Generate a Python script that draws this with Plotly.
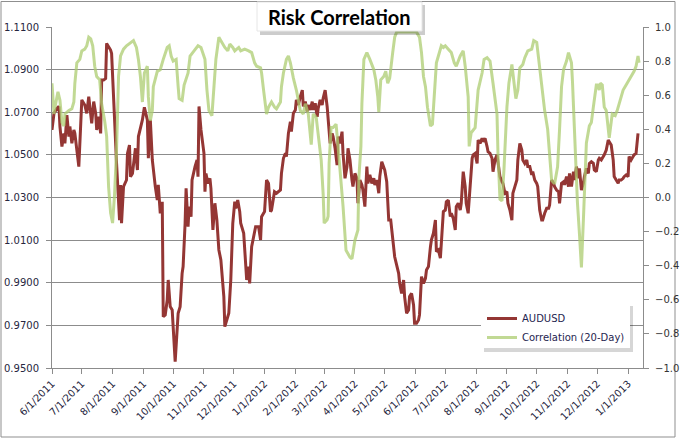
import pandas as pd
import plotly.graph_objects as go

START = "2011-06-01"

# AUDUSD: days since 2011-06-01 and price
aud_days = [0,2,5,7,8,10,12,13,15,17,18,20,22,23,27,28,30,33,35,37,38,40,42,44,45,47,49,50,52,54,55,59,60,62,65,68,69,70,72,75,76,78,79,81,82,84,86,87,91,93,96,97,99,101,104,106,107,109,111,112,114,116,117,119,121,124,127,129,131,132,134,135,137,138,140,141,144,146,147,148,150,153,154,155,157,159,160,162,164,166,168,170,173,174,178,180,182,184,185,187,189,190,193,194,196,198,199,201,203,205,208,210,211,214,216,218,220,221,224,226,230,231,233,235,236,238,240,241,243,245,246,248,250,252,253,255,257,258,260,262,263,265,267,268,270,272,273,275,277,278,280,282,283,285,287,288,290,292,293,295,297,298,300,302,303,305,307,308,310,312,313,315,317,318,320,322,324,325,327,329,330,332,334,335,337,339,341,344,345,347,349,350,352,354,355,357,359,360,362,364,365,367,369,370,372,374,376,377,379,381,382,384,386,387,389,391,392,394,396,397,399,401,402,404,406,407,409,411,412,414,416,417,419,421,423,424,426,428,429,431,433,434,436,438,439,441,443,444,446,448,449,451,453,454,456,458,459,461,463,464,466,468,469,471,473,474,476,478,479,481,483,484,486,488,489,491,493,494,496,498,500,501,503,505,506,508,510,511,513,515,516,518,520,521,523,525,526,528,530,531,533,535,536,538,540,541,543,545,546,548,550,551,553,555,556,558,560,561,563,565,566,568,570,571,573,575,576,578,580,581,583,585,586,588,590]
aud_values = [1.0617,1.0695,1.0719,1.0727,1.0633,1.0539,1.0601,1.0554,1.0687,1.0586,1.0633,1.0554,1.0617,1.0601,1.0445,1.0570,1.0758,1.0734,1.0695,1.0773,1.0727,1.0648,1.0750,1.0695,1.0617,1.0679,1.0601,1.0851,1.0851,1.0858,1.1023,1.0992,1.0976,1.0758,1.0460,1.0194,1.0359,1.0179,1.0351,1.0382,1.0507,1.0546,1.0398,1.0413,1.0452,1.0531,1.0429,1.0586,1.0664,1.0723,1.0664,1.0484,1.0664,1.0476,1.0351,1.0288,1.0359,1.0226,1.0280,0.9741,0.9749,0.9819,0.9913,0.9788,0.9772,0.9530,0.9757,0.9788,0.9944,0.9976,1.0179,1.0343,1.0163,1.0257,1.0210,1.0382,1.0445,1.0476,1.0398,1.0727,1.0617,1.0507,1.0327,1.0413,1.0366,1.0390,1.0343,1.0148,1.0273,1.0194,1.0054,1.0007,0.9835,0.9694,0.9757,0.9913,1.0179,1.0280,1.0249,1.0288,1.0234,1.0179,1.0132,1.0038,0.9913,0.9976,0.9897,1.0069,1.0116,1.0163,1.0163,1.0101,1.0210,1.0234,1.0382,1.0366,1.0234,1.0241,1.0327,1.0320,1.0335,1.0413,1.0484,1.0507,1.0492,1.0601,1.0656,1.0609,1.0695,1.0711,1.0758,1.0734,1.0773,1.0804,1.0727,1.0750,1.0703,1.0734,1.0711,1.0750,1.0711,1.0742,1.0679,1.0719,1.0758,1.0734,1.0765,1.0804,1.0727,1.0664,1.0554,1.0601,1.0586,1.0531,1.0452,1.0586,1.0554,1.0609,1.0507,1.0390,1.0445,1.0531,1.0476,1.0382,1.0351,1.0413,1.0390,1.0273,1.0382,1.0359,1.0335,1.0257,1.0445,1.0366,1.0406,1.0366,1.0390,1.0359,1.0382,1.0320,1.0398,1.0468,1.0445,1.0429,1.0374,1.0194,1.0194,1.0054,1.0022,0.9983,0.9944,0.9897,0.9850,0.9913,0.9835,0.9757,0.9772,0.9835,0.9850,0.9796,0.9710,0.9710,0.9725,0.9749,0.9929,0.9897,0.9921,0.9960,0.9976,1.0069,1.0101,1.0132,1.0194,1.0046,1.0054,1.0015,1.0085,1.0234,1.0241,1.0280,1.0288,1.0210,1.0226,1.0202,1.0148,1.0257,1.0273,1.0241,1.0273,1.0421,1.0351,1.0273,1.0226,1.0382,1.0484,1.0500,1.0507,1.0460,1.0570,1.0554,1.0578,1.0562,1.0578,1.0539,1.0515,1.0507,1.0484,1.0421,1.0476,1.0500,1.0460,1.0398,1.0374,1.0366,1.0320,1.0327,1.0273,1.0241,1.0194,1.0320,1.0351,1.0382,1.0476,1.0554,1.0523,1.0476,1.0460,1.0476,1.0445,1.0445,1.0406,1.0421,1.0382,1.0366,1.0351,1.0241,1.0194,1.0194,1.0226,1.0249,1.0249,1.0265,1.0382,1.0366,1.0351,1.0335,1.0327,1.0273,1.0367,1.0374,1.0359,1.0398,1.0351,1.0413,1.0351,1.0421,1.0382,1.0445,1.0390,1.0437,1.0335,1.0367,1.0398,1.0437,1.0413,1.0460,1.0468,1.0460,1.0429,1.0421,1.0476,1.0484,1.0476,1.0492,1.0500,1.0523,1.0570,1.0562,1.0546,1.0476,1.0398,1.0382,1.0367,1.0382,1.0382,1.0390,1.0398,1.0406,1.0398,1.0492,1.0476,1.0492,1.0500,1.0507,1.0601]

# 20-day correlation: days since 2011-06-01 and value
corr_days = [0,2,3,6,8,10,12,13,17,20,22,23,25,28,30,33,35,37,39,41,43,45,48,50,53,55,57,59,61,63,65,67,69,72,75,79,82,85,87,89,91,93,96,97,99,101,102,106,109,112,116,118,120,122,125,127,128,131,133,137,139,143,147,150,154,156,158,161,163,165,168,171,174,177,179,182,184,186,188,190,194,198,201,204,206,210,211,213,216,218,221,224,226,230,231,233,236,238,240,243,246,250,253,255,258,261,263,266,268,271,273,274,277,278,279,281,283,286,288,291,293,296,300,302,305,308,309,311,312,314,317,320,324,326,328,329,331,334,336,338,340,343,345,347,352,359,367,370,372,374,376,378,381,383,385,387,389,392,394,396,399,402,405,407,411,414,416,419,420,422,426,428,429,433,435,438,441,444,446,448,449,451,453,455,458,460,463,465,467,469,471,474,476,479,483,485,488,490,493,496,499,501,503,506,509,511,513,515,518,520,523,524,526,529,531,533,535,537,538,541,543,545,548,549,551,552,554,556,558,561,563,564,567,569,572,575,579,583,586,588,590,591]
corr_values = [0.67,0.49,0.53,0.62,0.57,0.44,0.42,0.49,0.51,0.52,0.56,0.67,0.79,0.81,0.86,0.87,0.89,0.94,0.93,0.89,0.77,0.71,0.69,0.55,0.45,0.36,0.06,-0.09,-0.15,0.02,0.28,0.71,0.83,0.87,0.89,0.91,0.92,0.88,0.81,0.71,0.56,0.73,0.77,0.59,0.45,0.51,0.65,0.74,0.75,0.81,0.88,0.89,0.83,0.80,0.81,0.65,0.58,0.57,0.66,0.73,0.83,0.86,0.89,0.88,0.81,0.63,0.51,0.48,0.65,0.81,0.94,0.91,0.88,0.86,0.90,0.88,0.86,0.87,0.88,0.86,0.87,0.86,0.85,0.79,0.77,0.76,0.73,0.63,0.49,0.53,0.56,0.53,0.52,0.56,0.65,0.73,0.81,0.83,0.79,0.70,0.63,0.51,0.49,0.55,0.49,0.31,0.49,0.47,0.38,0.22,0.02,-0.15,-0.13,-0.11,0.20,0.41,0.41,0.43,0.30,0.10,-0.05,-0.31,-0.35,-0.36,-0.25,-0.19,0.12,0.30,0.55,0.81,0.85,0.81,0.75,0.69,0.59,0.50,0.69,0.71,0.74,0.67,0.70,0.85,0.94,0.97,0.97,0.97,0.97,0.94,0.85,0.71,0.65,0.53,0.42,0.43,0.59,0.79,0.83,0.89,0.88,0.89,0.87,0.85,0.79,0.77,0.83,0.86,0.77,0.59,0.30,0.38,0.41,0.57,0.63,0.73,0.81,0.82,0.80,0.67,0.59,0.49,0.26,-0.01,-0.02,0.16,0.53,0.67,0.78,0.67,0.58,0.63,0.76,0.78,0.82,0.86,0.87,0.92,0.91,0.81,0.65,0.51,0.40,0.26,0.10,0.08,0.18,0.40,0.65,0.75,0.80,0.85,0.79,0.68,0.36,-0.03,-0.21,-0.41,-0.13,0.18,0.32,0.42,0.44,0.53,0.66,0.66,0.63,0.67,0.66,0.53,0.51,0.35,0.45,0.49,0.48,0.51,0.57,0.63,0.67,0.71,0.74,0.77,0.83,0.79]

tick_dates = ["2011-06-01","2011-07-01","2011-08-01","2011-09-01","2011-10-01","2011-11-01",
              "2011-12-01","2012-01-01","2012-02-01","2012-03-01","2012-04-01","2012-05-01",
              "2012-06-01","2012-07-01","2012-08-01","2012-09-01","2012-10-01","2012-11-01",
              "2012-12-01","2013-01-01"]
tick_text = ["6/1/2011","7/1/2011","8/1/2011","9/1/2011","10/1/2011","11/1/2011","12/1/2011",
             "1/1/2012","2/1/2012","3/1/2012","4/1/2012","5/1/2012","6/1/2012","7/1/2012",
             "8/1/2012","9/1/2012","10/1/2012","11/1/2012","12/1/2012","1/1/2013"]

start = pd.Timestamp(START)
aud_x = start + pd.to_timedelta(aud_days, unit="D")
corr_x = start + pd.to_timedelta(corr_days, unit="D")

RED = "#943634"
GREEN = "rgba(172,204,112,0.75)"
GRID = "#8c8c8c"
FONT = "DejaVu Sans"

fig = go.Figure()
fig.add_trace(go.Scatter(x=aud_x, y=aud_values, mode="lines", name="AUDUSD",
                         line=dict(color=RED, width=3)))
fig.add_trace(go.Scatter(x=corr_x, y=corr_values, mode="lines", name="Correlation (20-Day)",
                         line=dict(color=GREEN, width=3), yaxis="y2"))

W, H = 680, 439
L, R, T, B = 52, 37, 27, 71
pw, ph = W - L - R, H - T - B

def px(x):
    return (x - L) / pw

def py(y):
    return 1 - (y - T) / ph

fig.update_layout(
    width=W, height=H,
    margin=dict(l=L, r=R, t=T, b=B, autoexpand=False),
    paper_bgcolor="white", plot_bgcolor="white",
    font=dict(family=FONT, size=10, color="#262640"),
    showlegend=True,
    legend=dict(x=px(482), y=py(304), xanchor="left", yanchor="top",
                bgcolor="rgba(0,0,0,0)", borderwidth=0,
                font=dict(family=FONT, size=10, color="#1f2550"),
                tracegroupgap=6, itemwidth=30),
    xaxis=dict(type="date", range=["2011-06-01", "2013-01-16"], automargin=False,
               tickvals=tick_dates, ticktext=tick_text, tickangle=-45,
               showgrid=False, showline=True, linecolor=GRID, linewidth=1,
               ticks="outside", ticklen=5, tickcolor=GRID,
               tickfont=dict(family=FONT, size=10, color="#262640")),
    yaxis=dict(range=[0.95, 1.11], dtick=0.02, tick0=0.95, tickformat=".4f", automargin=False,
               showgrid=True, gridcolor=GRID, gridwidth=1,
               showline=True, linecolor=GRID, linewidth=1, ticklabelstandoff=5,
               ticks="outside", ticklen=5, tickcolor=GRID, zeroline=False,
               tickfont=dict(family=FONT, size=10, color="#262640")),
    yaxis2=dict(range=[-1, 1], dtick=0.2, tick0=-1, tickformat=".1f", automargin=False,
                overlaying="y", side="right", showgrid=False, zeroline=False,
                showline=True, linecolor=GRID, linewidth=1, ticklabelstandoff=4,
                ticks="outside", ticklen=5, tickcolor=GRID,
                tickfont=dict(family=FONT, size=10, color="#333333")),
)

shapes = [
    # chart area border
    dict(type="rect", xref="paper", yref="paper", x0=px(1), x1=px(675), y0=py(437), y1=py(1.5),
         line=dict(color="#8f8f8f", width=1), fillcolor="rgba(0,0,0,0)", layer="below"),
    # title box shadow and box
    dict(type="rect", xref="paper", yref="paper", x0=px(260), x1=px(425), y0=py(35), y1=py(5),
         line=dict(width=0), fillcolor="rgba(0,0,0,0.2)", layer="above"),
    dict(type="rect", xref="paper", yref="paper", x0=px(257), x1=px(422), y0=py(31), y1=py(2),
         line=dict(color="#e6e6e6", width=1), fillcolor="white", layer="above"),
    # legend shadow and box
    dict(type="rect", xref="paper", yref="paper", x0=px(484), x1=px(633), y0=py(352), y1=py(306),
         line=dict(width=0), fillcolor="rgba(0,0,0,0.16)", layer="above"),
    dict(type="rect", xref="paper", yref="paper", x0=px(481), x1=px(630), y0=py(348), y1=py(303),
         line=dict(width=0), fillcolor="white", layer="above"),
]
fig.update_layout(shapes=shapes)

fig.add_annotation(text="<b>Risk Correlation</b>", xref="paper", yref="paper",
                   x=px(339.5), y=py(17), xanchor="center", yanchor="middle",
                   showarrow=False, font=dict(family="Lato", size=20, color="black"))

fig.write_html("out.html", config={"displayModeBar": False},
               post_script="document.body.style.margin='0';document.body.style.overflow='hidden';")
